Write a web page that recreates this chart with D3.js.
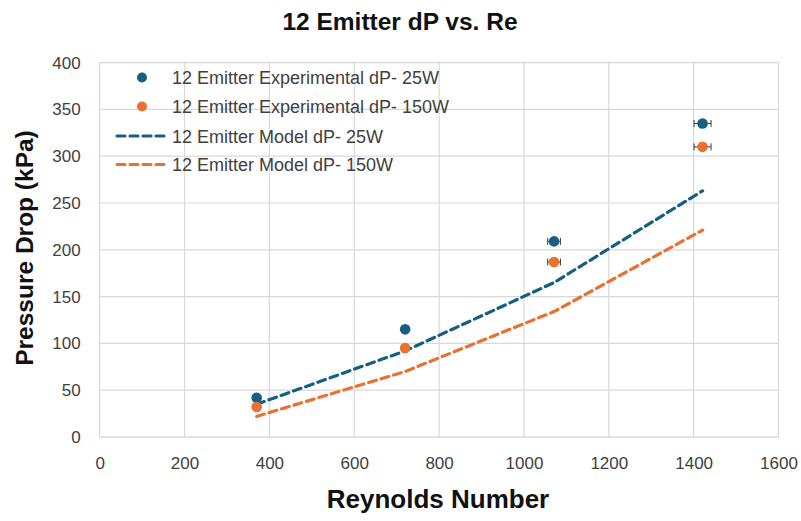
<!DOCTYPE html>
<html>
<head>
<meta charset="utf-8">
<script src="https://cdn.jsdelivr.net/npm/d3@7"></script>
<style>
  html, body { margin: 0; padding: 0; background: #fff; }
  svg { display: block; font-family: "Liberation Sans", Arial, sans-serif; }
</style>
</head>
<body>
<svg id="chart" width="801" height="521"></svg>
<script>
// Reynolds numbers of the four test points
const reynolds = [370, 720, 1071, 1421];
// Measured pressure drop (kPa)
const exp25 = [42, 115, 209, 335];
const exp150 = [32, 95, 187, 310];
// Horizontal uncertainty on Re
const reError = [4, 5, 15, 20];
// Model pressure drop (kPa)
const model25 = [35, 92, 165, 263];
const model150 = [22, 70, 134, 221];

const xTicks = [0, 200, 400, 600, 800, 1000, 1200, 1400, 1600];
const yTicks = [0, 50, 100, 150, 200, 250, 300, 350, 400];

const seriesNames = [
  "12 Emitter Experimental dP- 25W",
  "12 Emitter Experimental dP- 150W",
  "12 Emitter Model dP- 25W",
  "12 Emitter Model dP- 150W"
];

const BLUE = "#156082", ORANGE = "#E97132";

const svg = d3.select("#chart");

const x = d3.scaleLinear().domain([0, 1600]).range([99.7, 778.5]);
const y = d3.scaleLinear().domain([0, 400]).range([437, 62.6]);

// grid
const grid = svg.append("g");
grid.selectAll("line.v").data(xTicks).join("line")
  .attr("x1", d => x(d)).attr("x2", d => x(d))
  .attr("y1", y(0)).attr("y2", y(400))
  .attr("stroke", "#d9d9d9").attr("stroke-width", 1.2);
grid.selectAll("line.h").data(yTicks).join("line")
  .attr("x1", x(0)).attr("x2", x(1600))
  .attr("y1", d => y(d)).attr("y2", d => y(d))
  .attr("stroke", d => d === 0 ? "#c8c8c8" : "#d9d9d9").attr("stroke-width", 1.2);

// axes (labels only)
const xAxis = svg.append("g").attr("transform", `translate(0,${y(0)})`)
  .call(d3.axisBottom(x).tickValues(xTicks).tickSize(0).tickPadding(20).tickFormat(d3.format("d")));
const yAxis = svg.append("g").attr("transform", `translate(${x(0)},0)`)
  .call(d3.axisLeft(y).tickValues(yTicks).tickSize(0).tickPadding(19).tickFormat(d3.format("d")));
[xAxis, yAxis].forEach(a => {
  a.select(".domain").remove();
  a.selectAll("text").attr("font-size", 17).attr("fill", "#404040")
    .attr("font-family", "Liberation Sans, Arial, sans-serif");
});

// model curves
const line = d3.line().x(d => x(d[0])).y(d => y(d[1]));
[[model25, BLUE], [model150, ORANGE]].forEach(([vals, col]) => {
  svg.append("path")
    .attr("d", line(reynolds.map((r, i) => [r, vals[i]])))
    .attr("fill", "none").attr("stroke", col).attr("stroke-width", 3.2)
    .attr("stroke-dasharray", "8,5").attr("stroke-linecap", "round");
});

// experimental points with horizontal error bars
[[exp25, BLUE], [exp150, ORANGE]].forEach(([vals, col]) => {
  const g = svg.append("g");
  reynolds.forEach((r, i) => {
    const e = reError[i], cy = y(vals[i]);
    g.append("line").attr("x1", x(r - e)).attr("x2", x(r + e))
      .attr("y1", cy).attr("y2", cy).attr("stroke", "#3a3a3a").attr("stroke-width", 1);
    [r - e, r + e].forEach(v => g.append("line")
      .attr("x1", x(v)).attr("x2", x(v)).attr("y1", cy - 3.5).attr("y2", cy + 3.5)
      .attr("stroke", "#3a3a3a").attr("stroke-width", 1));
    g.append("circle").attr("cx", x(r)).attr("cy", cy).attr("r", 5.3).attr("fill", col);
  });
});

// legend
const legend = svg.append("g");
const rowsY = [77.5, 106.5, 136, 164.5];
seriesNames.forEach((name, i) => {
  const ry = rowsY[i];
  const col = i % 2 === 0 ? BLUE : ORANGE;
  if (i < 2) {
    legend.append("circle").attr("cx", 142).attr("cy", ry).attr("r", 5).attr("fill", col);
  } else {
    legend.append("line").attr("x1", 117).attr("x2", 167).attr("y1", ry).attr("y2", ry)
      .attr("stroke", col).attr("stroke-width", 3.2)
      .attr("stroke-dasharray", "8,5").attr("stroke-linecap", "round");
  }
  legend.append("text").attr("x", 172).attr("y", ry + 6.5).attr("font-size", 18)
    .attr("fill", "#404040").text(name);
});

// titles
svg.append("text").attr("x", 400).attr("y", 30).attr("text-anchor", "middle")
  .attr("font-size", 24.5).attr("font-weight", "bold").attr("fill", "#111")
  .text("12 Emitter dP vs. Re");
svg.append("text").attr("x", 438).attr("y", 508).attr("text-anchor", "middle")
  .attr("font-size", 26).attr("font-weight", "bold").attr("fill", "#111")
  .text("Reynolds Number");
svg.append("text").attr("transform", "translate(33,248) rotate(-90)").attr("text-anchor", "middle")
  .attr("font-size", 24.5).attr("font-weight", "bold").attr("fill", "#111")
  .text("Pressure Drop (kPa)");
</script>
</body>
</html>
